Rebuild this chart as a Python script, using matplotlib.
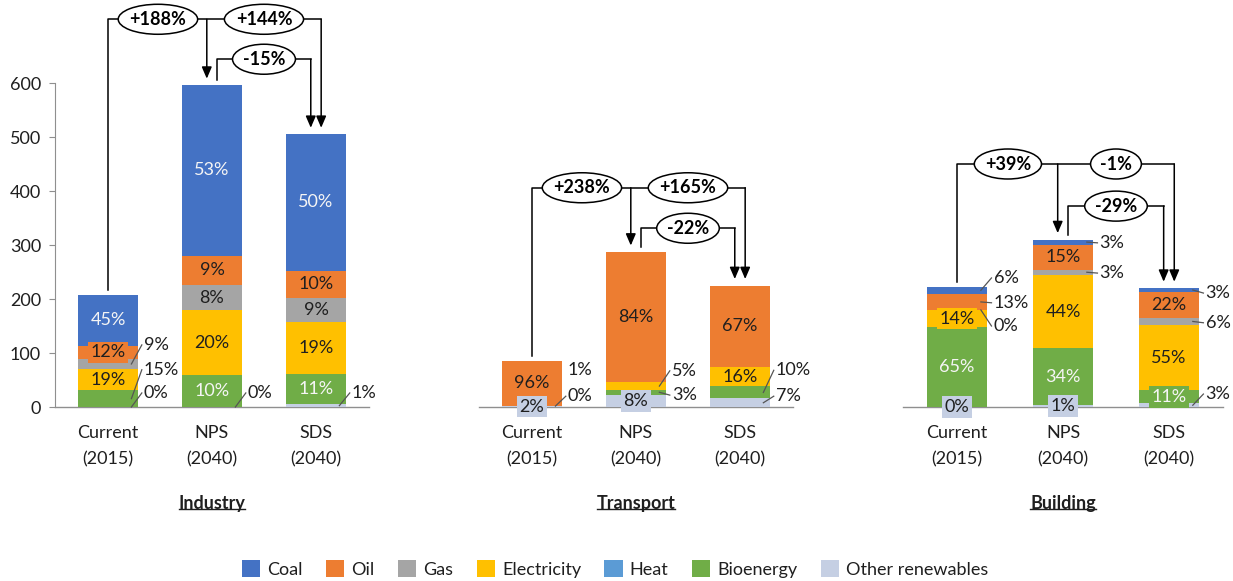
import matplotlib
matplotlib.use('Agg')
import matplotlib.pyplot as plt
from matplotlib.patches import Patch, Ellipse
from matplotlib.lines import Line2D

plt.rcParams['font.family'] = ['Lato', 'DejaVu Sans']

# fuels, drawn bottom to top in stack_order
fuels = ['Coal', 'Oil', 'Gas', 'Electricity', 'Heat', 'Bioenergy', 'Other renewables']
colors = ['#4472C4', '#ED7D31', '#A5A5A5', '#FFC000', '#5B9BD5', '#70AD47', '#C5CFE3']
stack_order = ['Other renewables', 'Bioenergy', 'Heat', 'Electricity', 'Gas', 'Oil', 'Coal']
scenarios = ['Current\n(2015)', 'NPS\n(2040)', 'SDS\n(2040)']

# Industry
industry_total = [207, 596, 505]
industry_coal = [45, 53, 50]
industry_oil = [12, 9, 10]
industry_gas = [9, 8, 9]
industry_elec = [19, 20, 19]
industry_heat = [0, 0, 0]
industry_bio = [15, 10, 11]
industry_other = [0, 0, 1]
industry_change = ['+188%', '+144%', '-15%']

# Transport
transport_total = [85, 287, 225]
transport_coal = [0, 0, 0]
transport_oil = [96, 84, 67]
transport_gas = [0, 0, 0]
transport_elec = [1, 5, 16]
transport_heat = [0, 0, 0]
transport_bio = [0, 3, 10]
transport_other = [2, 8, 7]
transport_change = ['+238%', '+165%', '-22%']

# Building
building_total = [223, 310, 220]
building_coal = [6, 3, 3]
building_oil = [13, 15, 22]
building_gas = [0, 3, 6]
building_elec = [14, 44, 55]
building_heat = [0, 0, 0]
building_bio = [65, 34, 11]
building_other = [0, 1, 3]
building_change = ['+39%', '-1%', '-29%']

# label placement: 'in' = centred, 'box' = centred with filled box,
# ('out', y) = to the right with leader line, ('note', y) = to the right, no line
industry_labels = {
    (0, 'Coal'): 'in', (0, 'Oil'): 'box', (0, 'Gas'): ('out', 115), (0, 'Electricity'): 'in',
    (0, 'Bioenergy'): ('out', 69), (0, 'Other renewables'): ('out', 26),
    (1, 'Coal'): 'in', (1, 'Oil'): 'in', (1, 'Gas'): 'in', (1, 'Electricity'): 'in',
    (1, 'Bioenergy'): 'in', (1, 'Other renewables'): ('out', 26),
    (2, 'Coal'): 'in', (2, 'Oil'): 'in', (2, 'Gas'): 'in', (2, 'Electricity'): 'in',
    (2, 'Bioenergy'): 'in', (2, 'Other renewables'): ('out', 26),
}
transport_labels = {
    (0, 'Oil'): 'in', (0, 'Electricity'): ('note', 68), (0, 'Bioenergy'): ('out', 20),
    (0, 'Other renewables'): 'box',
    (1, 'Oil'): 'in', (1, 'Electricity'): ('out', 67), (1, 'Bioenergy'): ('out', 22),
    (1, 'Other renewables'): 'box',
    (2, 'Oil'): 'in', (2, 'Electricity'): 'in', (2, 'Bioenergy'): ('out', 68),
    (2, 'Other renewables'): ('out', 20),
}
building_labels = {
    (0, 'Coal'): ('out', 239), (0, 'Oil'): ('out', 193), (0, 'Gas'): ('out', 150),
    (0, 'Electricity'): 'box', (0, 'Bioenergy'): 'in', (0, 'Other renewables'): 'box',
    (1, 'Coal'): ('out', 304), (1, 'Oil'): 'in', (1, 'Gas'): ('out', 248),
    (1, 'Electricity'): 'in', (1, 'Bioenergy'): 'in', (1, 'Other renewables'): 'box',
    (2, 'Coal'): ('out', 211), (2, 'Oil'): 'in', (2, 'Gas'): ('out', 156),
    (2, 'Electricity'): 'in', (2, 'Bioenergy'): 'box', (2, 'Other renewables'): ('out', 24),
}

sectors = [
    ('Industry', industry_total,
     [industry_coal, industry_oil, industry_gas, industry_elec, industry_heat, industry_bio, industry_other],
     industry_change, industry_labels, (718, 644), [55, 314]),
    ('Transport', transport_total,
     [transport_coal, transport_oil, transport_gas, transport_elec, transport_heat, transport_bio, transport_other],
     transport_change, transport_labels, (406, 331), [479, 314]),
    ('Building', building_total,
     [building_coal, building_oil, building_gas, building_elec, building_heat, building_bio, building_other],
     building_change, building_labels, (450, 372), [903, 320]),
]

W, H = 1233, 581
fig = plt.figure(figsize=(W / 100, H / 100), dpi=100)

BAR_W = 0.57
FS = 13
DARK = '#1f1f1f'
GRID = '#8f8f8f'
white_text = {'Coal', 'Bioenergy'}


def arrow(ax, x, y0, y1):
    ax.annotate('', xy=(x, y1), xytext=(x, y0),
                arrowprops=dict(arrowstyle='-|>,head_length=0.7,head_width=0.3',
                                color='black', lw=1.1, shrinkA=0, shrinkB=0),
                annotation_clip=False, zorder=5)


bubbles = []
titles = []
for name, totals, shares, changes, labels, (top, mid), (left, width) in sectors:
    ax = fig.add_axes([left / W, (H - 407) / H, width / W, 405 / H])
    ax.set_xlim(-0.51, 2.51)
    ax.set_ylim(0, 750)
    share = dict(zip(fuels, shares))
    color = dict(zip(fuels, colors))

    for i, total in enumerate(totals):
        col_sum = sum(share[f][i] for f in fuels)
        bottom = 0
        for f in stack_order:
            p = share[f][i]
            h = p / col_sum * total
            ax.bar(i, h, BAR_W, bottom=bottom, color=color[f], linewidth=0, zorder=3)
            spec = labels.get((i, f))
            ymid = bottom + h / 2
            txt = f'{p}%'
            tc = '#f5f5f5' if f in white_text else DARK
            if spec == 'in':
                ax.text(i, ymid, txt, ha='center', va='center', fontsize=FS, color=tc, zorder=6)
            elif spec == 'box':
                ax.text(i, ymid, txt, ha='center', va='center', fontsize=FS, color=tc, zorder=6,
                        clip_on=False,
                        bbox=dict(boxstyle='square,pad=0.15', fc=color[f], ec='none'))
            elif spec is not None:
                kind, ty = spec
                xr = i + BAR_W / 2
                if kind == 'out':
                    ax.plot([xr - 0.06, xr + 0.04], [ymid, ty], color='#555555', lw=0.9,
                            zorder=5, clip_on=False)
                ax.text(xr + 0.06, ty, txt, ha='left', va='center', fontsize=FS, color=DARK,
                        zorder=6)
            bottom += h

    # change brackets: current -> NPS / SDS on the upper level, NPS -> SDS below
    c, n, s = totals
    ax.plot([0, 0, 2.05], [c + 9, top, top], color='black', lw=1.1, zorder=4, clip_on=False)
    arrow(ax, 0.95, top, n + 12)
    arrow(ax, 2.05, top, s + 12)
    ax.plot([1.05, 1.05, 1.95], [n + 9, mid, mid], color='black', lw=1.1, zorder=4, clip_on=False)
    arrow(ax, 1.95, mid, s + 12)
    for (bx, by), label in zip([(0.48, top), (1.5, top), (1.5, mid)], changes):
        t = ax.text(bx, by, label, ha='center', va='center', fontsize=FS, fontweight='bold',
                    color='black', zorder=8, clip_on=False)
        bubbles.append((ax, bx, by, t))

    ax.set_xticks(range(3))
    ax.set_xticklabels(scenarios, fontsize=FS, color=DARK, linespacing=1.75)
    ax.tick_params(axis='x', length=0, pad=13)
    for side in ['top', 'right']:
        ax.spines[side].set_visible(False)
    ax.spines['bottom'].set_color(GRID)
    ax.spines['bottom'].set_linewidth(1.0)
    if name == 'Industry':
        ax.spines['left'].set_bounds(0, 600)
        ax.spines['left'].set_color(GRID)
        ax.set_yticks(range(0, 601, 100))
        ax.tick_params(axis='y', length=4, color=GRID, labelsize=FS, labelcolor=DARK, pad=6)
    else:
        ax.spines['left'].set_visible(False)
        ax.set_yticks([])
    ax.patch.set_alpha(0)

    t = ax.annotate(name, xy=(1, 1 - 503 / H), xycoords=('data', 'figure fraction'),
                    ha='center', va='center', fontsize=FS, fontweight='bold', color=DARK)
    titles.append(t)

handles = [Patch(facecolor=c, edgecolor='none', label=f) for f, c in zip(fuels, colors)]
fig.legend(handles=handles, loc='center', bbox_to_anchor=(615 / W, 1 - 569 / H), ncol=7,
           frameon=False, fontsize=FS, handlelength=1.0, handleheight=1.0,
           handletextpad=0.4, columnspacing=1.3, labelcolor=DARK)

fig.canvas.draw()
renderer = fig.canvas.get_renderer()

# ellipses around the change labels, sized from the rendered text
for ax, bx, by, t in bubbles:
    bb = t.get_window_extent(renderer)
    (x0, y0), (x1, y1) = ax.transData.inverted().transform([(0, 0), (bb.width * 1.15 + 14, 30)])
    ax.add_patch(Ellipse((bx, by), x1 - x0, y1 - y0, facecolor='white', edgecolor='black',
                         lw=1.1, zorder=7, clip_on=False))

# underline the sector titles
inv = fig.transFigure.inverted()
for t in titles:
    bb = t.get_window_extent(renderer)
    (x0, y0), (x1, _) = inv.transform([(bb.x0, bb.y0 + 3), (bb.x1, bb.y0 + 3)])
    fig.add_artist(Line2D([x0, x1], [y0, y0], transform=fig.transFigure, color=DARK, lw=1.0))

fig.savefig('out.png', dpi=100)
